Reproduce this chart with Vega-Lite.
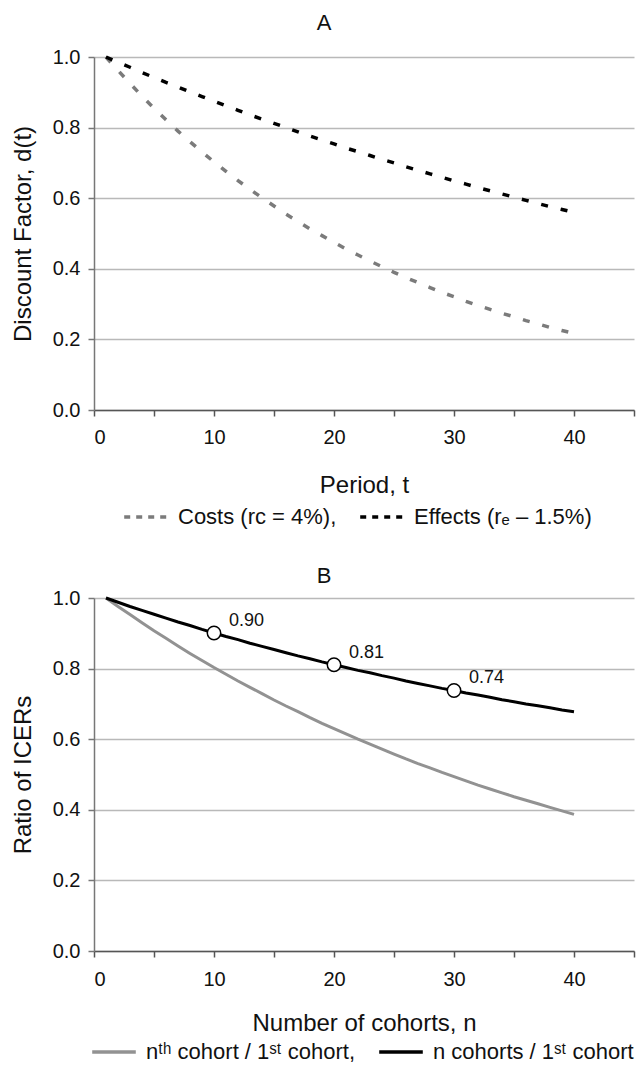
{
  "$schema": "https://vega.github.io/schema/vega-lite/v6.json",
  "padding": {"left": 11, "top": 12, "right": 2, "bottom": 2},
  "spacing": 37,
  "resolve": {"scale": {"color": "independent"}, "legend": {"color": "independent"}},
  "config": {
    "font": "Liberation Sans",
    "view": {"stroke": null},
    "axis": {
      "labelFont": "Liberation Sans", "labelFontSize": 20, "labelColor": "#111",
      "titleFont": "Liberation Sans", "titleFontSize": 24, "titleFontWeight": "normal", "titleColor": "#111",
      "gridColor": "#b9b9b9", "gridWidth": 1.5,
      "domainColor": "#777", "domainWidth": 1.5, "tickColor": "#777", "tickWidth": 1.5, "tickSize": 6
    },
    "legend": {
      "orient": "none", "direction": "horizontal", "title": null,
      "labelFont": "Liberation Sans", "labelFontSize": 22, "labelColor": "#111", "labelLimit": 400,
      "symbolType": "stroke", "symbolSize": 1900, "symbolStrokeWidth": 3.5,
      "columnPadding": 16, "labelOffset": 8
    },
    "title": {"font": "Liberation Sans", "fontSize": 22, "fontWeight": "normal", "color": "#111"}
  },
  "datasets": {
    "a": [
      {"t":1,"costs":1.000,"effects":1.000},{"t":2,"costs":0.962,"effects":0.985},{"t":3,"costs":0.925,"effects":0.971},{"t":4,"costs":0.889,"effects":0.956},
      {"t":5,"costs":0.855,"effects":0.942},{"t":6,"costs":0.822,"effects":0.928},{"t":7,"costs":0.790,"effects":0.915},{"t":8,"costs":0.760,"effects":0.901},
      {"t":9,"costs":0.731,"effects":0.888},{"t":10,"costs":0.703,"effects":0.875},{"t":11,"costs":0.676,"effects":0.862},{"t":12,"costs":0.650,"effects":0.849},
      {"t":13,"costs":0.625,"effects":0.836},{"t":14,"costs":0.601,"effects":0.824},{"t":15,"costs":0.578,"effects":0.812},{"t":16,"costs":0.555,"effects":0.800},
      {"t":17,"costs":0.534,"effects":0.788},{"t":18,"costs":0.513,"effects":0.776},{"t":19,"costs":0.494,"effects":0.765},{"t":20,"costs":0.475,"effects":0.754},
      {"t":21,"costs":0.456,"effects":0.742},{"t":22,"costs":0.439,"effects":0.732},{"t":23,"costs":0.422,"effects":0.721},{"t":24,"costs":0.406,"effects":0.710},
      {"t":25,"costs":0.390,"effects":0.700},{"t":26,"costs":0.375,"effects":0.689},{"t":27,"costs":0.361,"effects":0.679},{"t":28,"costs":0.347,"effects":0.669},
      {"t":29,"costs":0.333,"effects":0.659},{"t":30,"costs":0.321,"effects":0.649},{"t":31,"costs":0.308,"effects":0.640},{"t":32,"costs":0.296,"effects":0.630},
      {"t":33,"costs":0.285,"effects":0.621},{"t":34,"costs":0.274,"effects":0.612},{"t":35,"costs":0.264,"effects":0.603},{"t":36,"costs":0.253,"effects":0.594},
      {"t":37,"costs":0.244,"effects":0.585},{"t":38,"costs":0.234,"effects":0.576},{"t":39,"costs":0.225,"effects":0.568},{"t":40,"costs":0.217,"effects":0.560}
    ],
    "b": [
      {"n":1,"nth":1.000,"ncoh":1.000},{"n":2,"nth":0.976,"ncoh":0.988},{"n":3,"nth":0.953,"ncoh":0.976},{"n":4,"nth":0.930,"ncoh":0.965},
      {"n":5,"nth":0.907,"ncoh":0.954},{"n":6,"nth":0.886,"ncoh":0.943},{"n":7,"nth":0.864,"ncoh":0.932},{"n":8,"nth":0.843,"ncoh":0.922},
      {"n":9,"nth":0.823,"ncoh":0.911},{"n":10,"nth":0.803,"ncoh":0.901},{"n":11,"nth":0.784,"ncoh":0.891},{"n":12,"nth":0.765,"ncoh":0.882},
      {"n":13,"nth":0.747,"ncoh":0.872},{"n":14,"nth":0.729,"ncoh":0.863},{"n":15,"nth":0.711,"ncoh":0.854},{"n":16,"nth":0.694,"ncoh":0.845},
      {"n":17,"nth":0.678,"ncoh":0.836},{"n":18,"nth":0.661,"ncoh":0.828},{"n":19,"nth":0.645,"ncoh":0.819},{"n":20,"nth":0.630,"ncoh":0.811},
      {"n":21,"nth":0.615,"ncoh":0.803},{"n":22,"nth":0.600,"ncoh":0.795},{"n":23,"nth":0.586,"ncoh":0.788},{"n":24,"nth":0.572,"ncoh":0.780},
      {"n":25,"nth":0.558,"ncoh":0.773},{"n":26,"nth":0.544,"ncoh":0.765},{"n":27,"nth":0.531,"ncoh":0.758},{"n":28,"nth":0.519,"ncoh":0.751},
      {"n":29,"nth":0.506,"ncoh":0.744},{"n":30,"nth":0.494,"ncoh":0.738},{"n":31,"nth":0.482,"ncoh":0.731},{"n":32,"nth":0.470,"ncoh":0.725},
      {"n":33,"nth":0.459,"ncoh":0.719},{"n":34,"nth":0.448,"ncoh":0.712},{"n":35,"nth":0.437,"ncoh":0.706},{"n":36,"nth":0.427,"ncoh":0.700},
      {"n":37,"nth":0.417,"ncoh":0.695},{"n":38,"nth":0.407,"ncoh":0.689},{"n":39,"nth":0.397,"ncoh":0.683},{"n":40,"nth":0.387,"ncoh":0.678}
    ],
    "pts": [
      {"n":10,"v":0.901,"label":"0.90"},
      {"n":20,"v":0.811,"label":"0.81"},
      {"n":30,"v":0.738,"label":"0.74"}
    ]
  },
  "vconcat": [
    {
      "title": {"text": "A", "frame": "group", "anchor": "middle", "dx": -40, "offset": 12},
      "width": 540,
      "height": 353,
      "data": {"name": "a"},
      "transform": [{"fold": ["costs", "effects"], "as": ["series", "value"]}],
      "mark": {"type": "line", "strokeWidth": 3.5, "strokeDash": [7, 13]},
      "encoding": {
        "x": {
          "field": "t", "type": "quantitative", "title": "Period, t",
          "scale": {"domain": [0, 45], "nice": false},
          "axis": {"values": [0,5,10,15,20,25,30,35,40,45], "grid": false, "labelPadding": 11, "titlePadding": 26,
                   "labelExpr": "datum.value % 10 === 0 ? datum.label : ''", "domainColor": "#555", "tickColor": "#555"}
        },
        "y": {
          "field": "value", "type": "quantitative", "title": "Discount Factor, d(t)",
          "scale": {"domain": [0, 1], "nice": false},
          "axis": {"values": [0,0.2,0.4,0.6,0.8,1.0], "format": ".1f", "labelPadding": 8, "titlePadding": 17}
        },
        "color": {
          "field": "series", "type": "nominal",
          "scale": {"domain": ["costs", "effects"], "range": ["#7b7b7b", "#000000"]},
          "legend": {"symbolDash": [6, 6], "legendX": 28, "legendY": 436,
                     "labelExpr": "datum.value === 'costs' ? 'Costs (rc = 4%),' : 'Effects (rₑ – 1.5%)'"}
        }
      }
    },
    {
      "title": {"text": "B", "frame": "group", "anchor": "middle", "dx": -40, "offset": 0},
      "width": 540,
      "height": 353,
      "layer": [
        {
          "data": {"name": "b"},
          "transform": [{"fold": ["nth", "ncoh"], "as": ["series", "value"]}],
          "mark": {"type": "line", "strokeWidth": 3},
          "encoding": {
            "x": {
              "field": "n", "type": "quantitative", "title": "Number of cohorts, n",
              "scale": {"domain": [0, 45], "nice": false},
              "axis": {"values": [0,5,10,15,20,25,30,35,40,45], "grid": false, "labelPadding": 12, "titlePadding": 22,
                       "labelExpr": "datum.value % 10 === 0 ? datum.label : ''", "domainColor": "#555", "tickColor": "#555"}
            },
            "y": {
              "field": "value", "type": "quantitative", "title": "Ratio of ICERs",
              "scale": {"domain": [0, 1], "nice": false},
              "axis": {"values": [0,0.2,0.4,0.6,0.8,1.0], "format": ".1f", "labelPadding": 8, "titlePadding": 17}
            },
            "color": {
              "field": "series", "type": "nominal",
              "scale": {"domain": ["nth", "ncoh"], "range": ["#929292", "#000000"]},
              "legend": {"legendX": -4, "legendY": 430,
                         "labelExpr": "datum.value === 'nth' ? 'nᵗʰ cohort / 1ˢᵗ cohort,' : 'n cohorts / 1ˢᵗ cohort'"}
            }
          }
        },
        {
          "data": {"name": "pts"},
          "mark": {"type": "point", "shape": "circle", "filled": true, "fill": "#ffffff", "stroke": "#000000", "strokeWidth": 1.5, "size": 180, "opacity": 1},
          "encoding": {
            "x": {"field": "n", "type": "quantitative"},
            "y": {"field": "v", "type": "quantitative"}
          }
        },
        {
          "data": {"name": "pts"},
          "mark": {"type": "text", "align": "left", "baseline": "middle", "dx": 15, "dy": -12, "fontSize": 18, "color": "#111"},
          "encoding": {
            "x": {"field": "n", "type": "quantitative"},
            "y": {"field": "v", "type": "quantitative"},
            "text": {"field": "label"}
          }
        }
      ]
    }
  ]
}
